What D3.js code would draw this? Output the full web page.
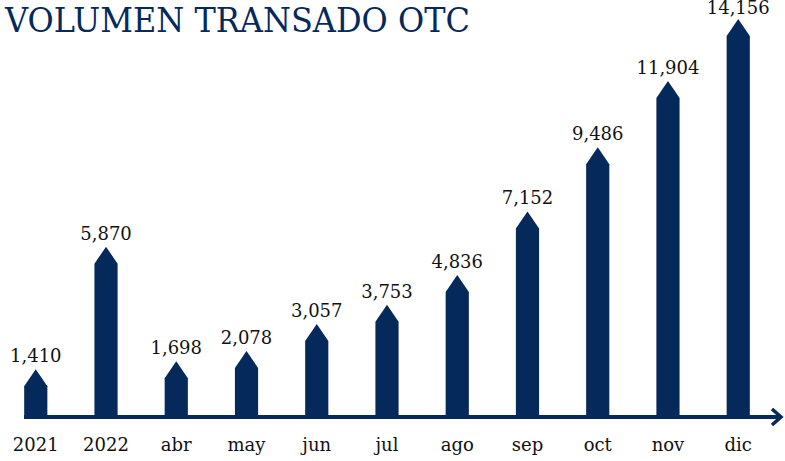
<!DOCTYPE html>
<html>
<head>
<meta charset="utf-8">
<script src="https://cdn.jsdelivr.net/npm/d3@7"></script>
<style>
  body { margin: 0; background: #fff; }
  svg { display: block; }
  text { font-family: "DejaVu Serif", serif; }
</style>
</head>
<body>
<svg width="785" height="461"></svg>
<script>
// datos del grafico
var categorias = ["2021", "2022", "abr", "may", "jun", "jul", "ago", "sep", "oct", "nov", "dic"];
var valores = [1410, 5870, 1698, 2078, 3057, 3753, 4836, 7152, 9486, 11904, 14156];
var titulo = "VOLUMEN TRANSADO OTC";

var width = 785, height = 461;
var base = 419;
var navy = "#05295b";

var svg = d3.select("svg");

var x = d3.scaleBand()
    .domain(categorias)
    .range([1, 773])
    .paddingInner(0.67)
    .paddingOuter(0.33);

// escala para la punta de la flecha
var y = d3.scaleLinear()
    .domain([0, d3.max(valores)])
    .range([base - 11, 19]);

var head = 17;
var fmt = d3.format(",");

svg.append("text")
    .attr("x", 5)
    .attr("y", 32)
    .attr("fill", navy)
    .attr("font-size", 34)
    .attr("textLength", 465)
    .attr("lengthAdjust", "spacingAndGlyphs")
    .text(titulo);

// barras con punta de flecha
svg.append("g")
    .selectAll("path")
    .data(valores)
    .enter().append("path")
    .attr("fill", navy)
    .attr("d", function(d, i) {
      var x0 = x(categorias[i]), w = x.bandwidth();
      var tip = y(d);
      return "M" + x0 + "," + base +
        "L" + x0 + "," + (tip + head) +
        "L" + (x0 + w / 2) + "," + tip +
        "L" + (x0 + w) + "," + (tip + head) +
        "L" + (x0 + w) + "," + base + "Z";
    });

// etiquetas de valores
svg.append("g")
    .selectAll("text")
    .data(valores)
    .enter().append("text")
    .attr("x", function(d, i) { return x(categorias[i]) + x.bandwidth() / 2; })
    .attr("y", function(d) { return Math.max(y(d) - 7, 14); })
    .attr("text-anchor", "middle")
    .attr("font-size", 18)
    .attr("fill", "#111")
    .text(function(d) { return fmt(d); });

// eje con flecha
svg.append("line")
    .attr("x1", 24)
    .attr("x2", 780)
    .attr("y1", base - 2)
    .attr("y2", base - 2)
    .attr("stroke", navy)
    .attr("stroke-width", 4);

svg.append("path")
    .attr("d", "M772,409 L781," + (base - 2) + " L772,425")
    .attr("fill", "none")
    .attr("stroke", navy)
    .attr("stroke-width", 3.5);

// etiquetas de categorias
svg.append("g")
    .selectAll("text")
    .data(categorias)
    .enter().append("text")
    .attr("x", function(d) { return x(d) + x.bandwidth() / 2; })
    .attr("y", 451)
    .attr("text-anchor", "middle")
    .attr("font-size", 18)
    .attr("fill", "#111")
    .text(function(d) { return d; });
</script>
</body>
</html>
